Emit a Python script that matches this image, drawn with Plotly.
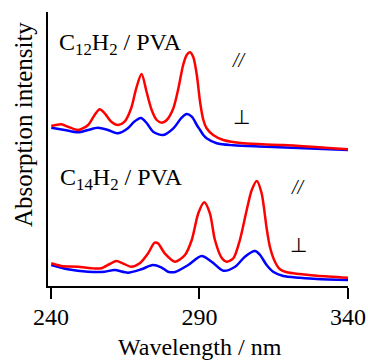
import plotly.graph_objects as go

# C12H2 / PVA spectra: parallel (red) and perpendicular (blue)
c12_par_wl = [240.1, 243.5, 245.7, 249.1, 252.5, 254.7, 256.4, 258.1, 260.3, 262.6, 264.8,
              267.0, 268.7, 270.5, 272.2, 273.9, 275.6, 277.3, 279.0, 281.2, 282.9, 284.5,
              285.7, 286.8, 287.9, 289.1, 290.2, 291.3, 292.4, 294.6, 298.0, 304.7, 318.2, 340.0]
c12_par_int = [160, 161.7, 159.3, 156, 161, 171, 176.7, 172.7, 164.3, 161, 164.3,
               177.7, 197.7, 212, 194, 176, 166, 163.3, 166, 177.7, 197.7, 221,
               231, 233.7, 229, 211, 184, 166, 157.7, 151, 146, 142.7, 141, 136.7]
c12_perp_wl = [240.1, 244.6, 249.1, 252.5, 255.8, 259.2, 262.6, 265.9, 267.9, 270.3, 272.2,
               274.4, 277.8, 281.2, 284.0, 285.7, 287.4, 289.1, 290.2, 291.3, 292.4, 295.8,
               301.4, 312.6, 340.0]
c12_perp_int = [158.3, 156, 153.7, 156, 158.3, 156, 152.7, 157.7, 164, 168, 163,
                154.3, 151, 157.7, 168.3, 172, 169.3, 161, 156, 151, 147.7, 142.7,
                140.7, 139.3, 136]

# C14H2 / PVA spectra
c14_par_wl = [240.1, 243.5, 249.1, 253.6, 256.9, 259.8, 262.0, 264.2, 267.0, 269.9, 272.7,
              274.9, 276.0, 278.3, 281.8, 285.1, 287.4, 289.6, 291.6, 293.5, 295.2, 297.5,
              299.2, 301.4, 303.6, 305.9, 307.6, 309.3, 310.9, 312.6, 313.7, 315.4, 317.1,
              319.4, 323.8, 329.5, 340.0]
c14_par_int = [22.7, 20, 19.3, 17.7, 17.7, 22, 25, 22.7, 19.3, 22.7, 32.7,
               43.3, 42.7, 32.7, 24.3, 31, 46, 72.7, 83.7, 72.7, 46, 28,
               24.3, 27.7, 46, 76, 96, 105, 93, 58, 39.3, 24.3, 16.7,
               13.7, 12, 10.3, 8.3]
c14_perp_wl = [240.1, 245.7, 252.5, 258.1, 261.4, 265.9, 270.4, 274.3, 277.1, 279.4, 281.8,
               286.2, 290.7, 294.1, 298.0, 302.0, 305.3, 308.7, 310.4, 312.6, 314.8, 318.2,
               323.8, 329.5, 340.0]
c14_perp_int = [21, 16.7, 14.3, 14.3, 16, 13.3, 16.7, 21, 18.7, 14.3, 14,
                21, 30, 24.3, 15.3, 19.3, 29.3, 35, 31, 21, 14.3, 10,
                8.3, 7, 6]

x_ticks = [240, 290, 340]

RED = "#ff0000"
BLUE = "#0000ff"
FONT = "Liberation Serif, Times New Roman, serif"

fig = go.Figure()
for wl, inten, col in [(c12_perp_wl, c12_perp_int, BLUE), (c12_par_wl, c12_par_int, RED),
                       (c14_perp_wl, c14_perp_int, BLUE), (c14_par_wl, c14_par_int, RED)]:
    fig.add_trace(go.Scatter(x=wl, y=inten, mode="lines",
                             line=dict(color=col, width=2.5, shape="spline", smoothing=0.8),
                             showlegend=False, hoverinfo="skip"))

big = dict(family=FONT, size=24, color="black")
annotations = [
    dict(x=242.0, y=242, text="C<sub>12</sub>H<sub>2</sub> / PVA", xanchor="left", yanchor="middle", font=big),
    dict(x=242.4, y=107, text="C<sub>14</sub>H<sub>2</sub> / PVA", xanchor="left", yanchor="middle", font=big),
    dict(x=303.6, y=226, text="<i>//</i>", xanchor="center", yanchor="middle", font=dict(family=FONT, size=20, color="black")),
    dict(x=323.2, y=99, text="<i>//</i>", xanchor="center", yanchor="middle", font=dict(family=FONT, size=20, color="black")),
    dict(x=304.0, y=169, text="⊥", xanchor="center", yanchor="middle", font=dict(family=FONT, size=20, color="black")),
    dict(x=323.2, y=41, text="⊥", xanchor="center", yanchor="middle", font=dict(family=FONT, size=20, color="black")),
]
for a in annotations:
    a.update(xref="x", yref="y", showarrow=False)

# axis titles as paper annotations
annotations.append(dict(xref="paper", yref="paper", x=(200 - 48) / 300, y=(286 - 347) / 274,
                        text="Wavelength / nm", showarrow=False, xanchor="center", yanchor="middle",
                        font=big))
annotations.append(dict(xref="paper", yref="paper", x=(23 - 48) / 300, y=(286 - 125) / 274,
                        text="Absorption intensity", showarrow=False, xanchor="center", yanchor="middle",
                        textangle=-90, font=dict(family=FONT, size=25, color="black")))

fig.update_layout(
    width=368, height=361,
    margin=dict(l=48, r=20, t=12, b=75, autoexpand=False),
    paper_bgcolor="white", plot_bgcolor="white",
    font=dict(family=FONT, size=24, color="black"),
    annotations=annotations,
    xaxis=dict(range=[239, 340], tickvals=x_ticks, ticktext=[str(v) for v in x_ticks],
               showline=True, linecolor="black", linewidth=2, ticks="outside", ticklen=11,
               tickwidth=2, tickcolor="black", showgrid=False, zeroline=False, automargin=False,
               ticklabelstandoff=-3,
               tickfont=dict(family=FONT, size=24, color="black")),
    yaxis=dict(range=[0, 274], showline=True, linecolor="black", linewidth=2, ticks="",
               showticklabels=False, showgrid=False, zeroline=False, automargin=False),
)

fig.write_html("out.html", config={"displayModeBar": False},
               post_script="document.body.style.margin='0';document.body.style.overflow='hidden';")
